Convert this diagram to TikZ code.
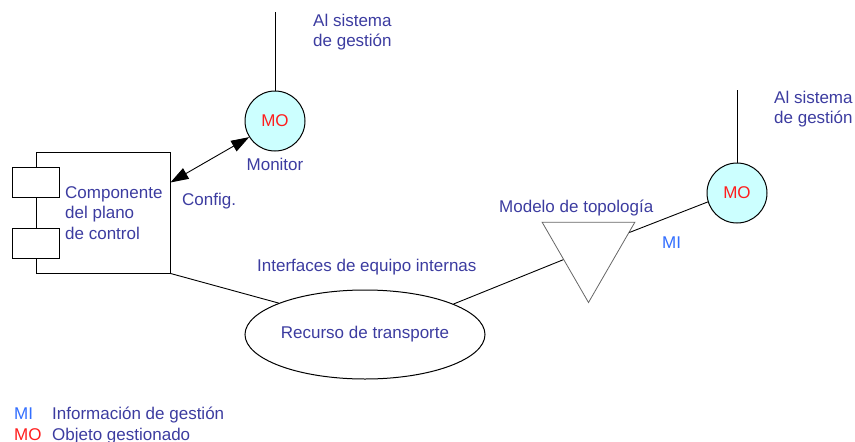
\documentclass[tikz,border=0pt]{standalone}
\usepackage{fontspec}
\setmainfont{Liberation Sans}
\usetikzlibrary{arrows.meta,shapes.geometric}
\definecolor{txtblue}{RGB}{60,60,160}
\definecolor{miblue}{RGB}{50,110,255}
\definecolor{mored}{RGB}{255,30,30}
\definecolor{mofill}{RGB}{204,255,255}
\tikzset{
  mo/.style={circle,draw=black,fill=mofill,line width=1pt,minimum size=60pt,inner sep=0pt,text=mored},
  comp/.style={rectangle,draw=black,line width=.9pt,minimum width=134pt,minimum height=121pt,inner sep=0pt},
  slot/.style={rectangle,draw=black,fill=white,line width=.9pt,minimum width=47pt,minimum height=30pt,inner sep=0pt},
  res/.style={ellipse,draw=black,line width=1pt,minimum width=240pt,minimum height=89pt,inner sep=0pt,text=txtblue},
  topo/.style={regular polygon,regular polygon sides=3,shape border rotate=180,draw=black!60,line width=.8pt,minimum size=107pt,inner sep=0pt},
  lab/.style={text=txtblue,inner sep=0pt,anchor=base west,align=left},
  link/.style={line width=.9pt,black},
  cfg/.style={line width=.9pt,black,{Triangle[length=18pt,width=12pt]}-{Triangle[length=18pt,width=12pt]}},
  every node/.style={font=\fontsize{17}{20.5}\selectfont}
}
\begin{document}
\begin{tikzpicture}[x=1pt,y=-1pt]
  \useasboundingbox (0,0) rectangle (855,442);
  % control plane component
  \node[comp] (comp) at (103,212.5) {};
  \node[slot] (slotA) at (36,182) {};
  \node[slot] (slotB) at (36,243) {};
  \node[lab] (compl) at (65,239) {Componente\\del plano\\de control};
  % managed objects
  \node[mo] (mo1) at (275,121) {MO};
  \node[mo] (mo2) at (737,193) {MO};
  \coordinate (top1) at (275,12);
  \coordinate (top2) at (737,90);
  % transport resource and topology
  \node[res] (res) at (365,334.5) {Recurso de transporte};
  \node[topo] (topo) at (588.5,249) {};
  \draw[link] (mo1.north) -- (top1);
  \draw[link] (mo2.north) -- (top2);
  \draw[cfg] (comp.24.5) -- (mo1.212.6);
  \draw[link] (comp.south east) -- (res.160);
  \draw[link] (res.19) -- (topo.203);
  \draw[link] (topo.22) -- (mo2.197);
  % labels
  \node[lab] (sis1) at (313,46.5) {Al sistema\\de gestión};
  \node[lab,anchor=base] (monl) at (275,170) {Monitor};
  \node[lab] (cfgl) at (182,205) {Config.};
  \node[lab] (ifzl) at (257,271) {Interfaces de equipo internas};
  \node[lab] (topl) at (499,212) {Modelo de topología};
  \node[lab,text=miblue] (mil) at (662,248) {MI};
  \node[lab] (sis2) at (774,123.5) {Al sistema\\de gestión};
  % legend
  \node[lab,text=miblue] (legmi) at (14,419) {MI};
  \node[lab] (leginfo) at (52,419) {Información de gestión};
  \node[lab,text=mored] (legmo) at (14,440) {MO};
  \node[lab] (legobj) at (52,440) {Objeto gestionado};
\end{tikzpicture}
\end{document}
